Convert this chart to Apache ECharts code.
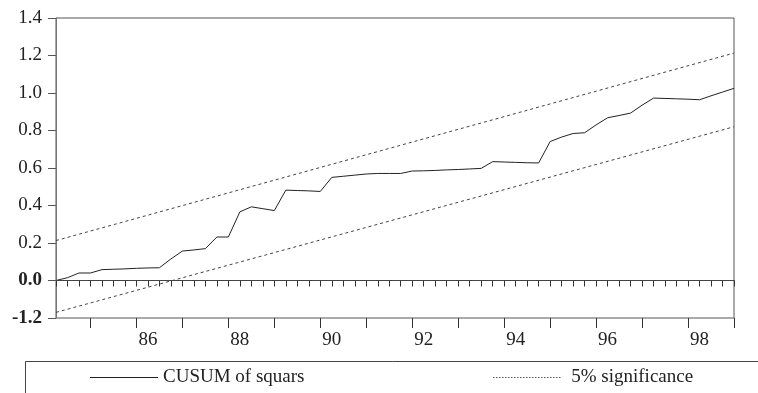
<!DOCTYPE html>
<html>
<head>
	<meta charset="utf-8"/>
	<script src="https://cdn.jsdelivr.net/npm/echarts@6/dist/echarts.min.js"></script>
	<style>
		html, body { margin: 0; padding: 0; background: #fff; }
		#chart { width: 758px; height: 393px; }
	</style>
</head>
<body>
	<div id="chart"></div>
	<script>
		// quarterly sample 1984Q1 .. 1998Q4
		const startYear = 1984;
		const nObs = 60;
		const quarters = [];
		for (let i = 0; i < nObs; i++) quarters.push(startYear + i * 0.25);

		// CUSUM of squares
		const cusum = [
			0.000, 0.015, 0.040, 0.040, 0.058, 0.060, 0.062, 0.065, 0.067, 0.068,
			0.115, 0.157, 0.163, 0.170, 0.232, 0.232, 0.366, 0.393, 0.383, 0.373,
			0.482, 0.480, 0.478, 0.475, 0.550, 0.556, 0.562, 0.568, 0.571, 0.571,
			0.571, 0.584, 0.585, 0.587, 0.590, 0.592, 0.595, 0.598, 0.634, 0.632,
			0.630, 0.628, 0.627, 0.741, 0.765, 0.784, 0.788, 0.830, 0.868, 0.880,
			0.893, 0.935, 0.973, 0.971, 0.969, 0.967, 0.964, 0.985, 1.005, 1.025
		];
		// 5% bounds, straight lines: value at first and last period
		const upperBound = [0.213, 1.213];
		const lowerBound = [-0.170, 0.820];

		const yLabels = ['-1.2', '0.0', '0.2', '0.4', '0.6', '0.8', '1.0', '1.2', '1.4'];
		const yearLabels = [1986, 1988, 1990, 1992, 1994, 1996, 1998];

		const fontFam = '"Liberation Serif", "DejaVu Serif", serif';
		const ink = '#222';

		// short ticks every quarter, long ticks at Q4
		const shortTicks = quarters.slice();
		const longTicks = [];
		for (let y = startYear; y < startYear + 15; y++) longTicks.push(y + 0.75);

		const first = quarters[0], last = quarters[nObs - 1];

		// legend icons: plain line and a dotted line
		const solidIcon = 'path://M0,0H68V1H0Z';
		let dots = '';
		for (let x = 0; x < 69; x += 3) dots += 'M' + x + ',0h1.5v1h-1.5z';
		const dottedIcon = 'path://' + dots;

		let chart = echarts.init(document.getElementById('chart'));
		chart.setOption({
			animation: false,
			backgroundColor: '#fff',
			grid: {
				left: 56, right: 24, top: 18, bottom: 75,
				show: true, borderColor: '#555', borderWidth: 1
			},
			xAxis: [{
				type: 'value', min: first, max: last,
				axisLine: { show: true, lineStyle: { color: '#333', width: 1 } },
				axisTick: { show: true, customValues: shortTicks, length: 6, lineStyle: { color: '#333' } },
				axisLabel: {
					customValues: yearLabels,
					formatter: v => String(Math.round(v) % 100),
					margin: 13, fontFamily: fontFam, fontSize: 19, color: ink
				},
				splitLine: { show: false }
			}, {
				type: 'value', min: first, max: last, position: 'bottom',
				axisLine: { show: false },
				axisTick: { show: true, customValues: longTicks, length: 10, lineStyle: { color: '#333' } },
				axisLabel: { show: false },
				splitLine: { show: false }
			}],
			yAxis: {
				type: 'value', min: -0.2, max: 1.4, interval: 0.2,
				axisLine: { show: true, lineStyle: { color: '#777', width: 1 } },
				axisTick: { show: true, length: 8, lineStyle: { color: '#555' } },
				axisLabel: {
					margin: 14, fontFamily: fontFam, fontSize: 19, color: ink,
					formatter: v => {
						let s = yLabels[Math.round((v + 0.2) / 0.2)];
						return (s === '0.0' || s === '-1.2') ? '{b|' + s + '}' : s;
					},
					rich: { b: { fontFamily: fontFam, fontSize: 19, fontWeight: 'bold', color: ink } }
				},
				splitLine: { show: false }
			},
			legend: [{
				data: [{ name: 'CUSUM of squars', icon: solidIcon }],
				left: 90, top: 368, padding: 0,
				itemWidth: 68, itemHeight: 1,
				textStyle: { fontFamily: fontFam, fontSize: 19, color: ink }
			}, {
				data: [{ name: '5% significance', icon: dottedIcon }],
				left: 493, top: 368, padding: 0,
				itemWidth: 69, itemHeight: 1,
				textStyle: { fontFamily: fontFam, fontSize: 19, color: ink, padding: [0, 0, 0, 5] }
			}],
			graphic: [{
				type: 'rect', silent: true,
				shape: { x: 25.5, y: 361.5, width: 800, height: 100 },
				style: { fill: 'none', stroke: '#444', lineWidth: 1 }
			}],
			series: [{
				name: 'CUSUM of squars', type: 'line',
				data: cusum.map((v, i) => [quarters[i], v]),
				symbol: 'none',
				lineStyle: { color: ink, width: 1 },
				itemStyle: { color: ink },
				markLine: {
					silent: true, symbol: 'none', label: { show: false },
					lineStyle: { color: '#444', width: 1, type: 'solid' },
					data: [{ yAxis: 0 }]
				}
			}, {
				name: '5% significance', type: 'line',
				data: [[first, upperBound[0]], [last, upperBound[1]]],
				symbol: 'none',
				lineStyle: { color: '#444', width: 1, type: [3, 3] },
				itemStyle: { color: '#555' }
			}, {
				name: '5% significance', type: 'line',
				data: [[first, lowerBound[0]], [last, lowerBound[1]]],
				symbol: 'none',
				lineStyle: { color: '#444', width: 1, type: [3, 3] },
				itemStyle: { color: '#555' }
			}]
		});
	</script>
</body>
</html>
